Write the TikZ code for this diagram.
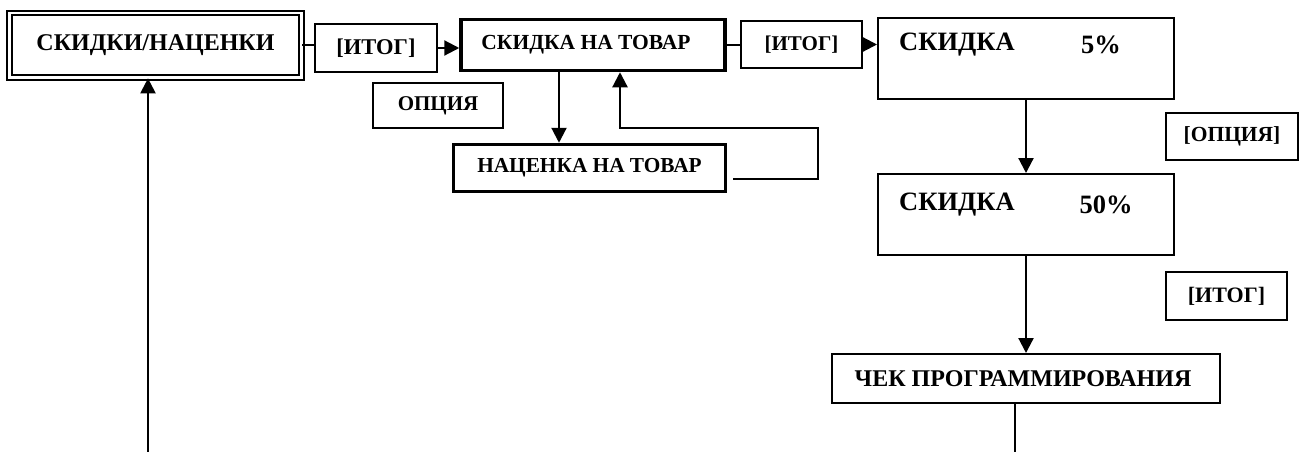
\documentclass[tikz,border=0pt]{standalone}
\usepackage{fontspec}
\setmainfont{Liberation Serif}
\usetikzlibrary{arrows.meta}
\newcommand{\fsz}[1]{\bfseries\fontsize{#1}{#1}\selectfont}
\begin{document}
\begin{tikzpicture}[x=1pt,y=-1pt,
  box/.style={draw=black,line width=2pt,inner sep=0pt,font=\fsz{21.5}},
  thickbox/.style={box,line width=3.5pt},
  conn/.style={line width=2.2pt},
  arr/.style={conn,-{Triangle[length=15pt,width=15pt]}},
  txt/.style={inner sep=0pt,font=\fsz{26.5}}
]
\useasboundingbox (0,0) rectangle (1300,452);
% double box
\node[draw=black,line width=1.7pt,double,double distance=2.8pt,inner sep=0pt,
  minimum width=292pt,minimum height=64.5pt,font=\fsz{24}]
  (dbl) at (155.5,45.25) {СКИДКИ/НАЦЕНКИ};
\node[box,minimum width=122pt,minimum height=48pt,font=\fsz{22.5}] (it1) at (376,48) {[ИТОГ]};
\node[thickbox,minimum width=264pt,minimum height=51pt] (snt) at (593,45) {СКИДКА НА ТОВАР\hspace*{14pt}};
\node[box,minimum width=121pt,minimum height=47pt,font=\fsz{21}] (it2) at (801.5,44.5) {[ИТОГ]};
\node[box,minimum width=130pt,minimum height=45pt,font=\fsz{21}] (opt) at (438,105.5) {ОПЦИЯ};
\node[thickbox,minimum width=272pt,minimum height=47pt,font=\fsz{21.3}] (nat) at (589.5,168) {НАЦЕНКА НА ТОВАР};
\node[box,minimum width=296pt,minimum height=81pt] (s5) at (1026,58.5) {};
\node[txt,anchor=west] (s5a) at (899,45) {СКИДКА};
\node[txt] (s5b) at (1101,45) {5\%};
\node[box,minimum width=132pt,minimum height=47pt] (opt2) at (1232,136.5) {[ОПЦИЯ]};
\node[box,minimum width=296pt,minimum height=81pt] (s50) at (1026,214.5) {};
\node[txt,anchor=west] (s50a) at (899,205) {СКИДКА};
\node[txt] (s50b) at (1106,205) {50\%};
\node[box,minimum width=121pt,minimum height=48pt,font=\fsz{22}] (it3) at (1226.5,296) {[ИТОГ]};
\node[box,minimum width=388pt,minimum height=49pt,font=\fsz{24}] (chek) at (1026,378.5) {ЧЕК ПРОГРАММИРОВАНИЯ\hspace*{6pt}};
% connectors
\draw[conn] (dbl.east) -- (dbl.east -| it1.west);
\draw[arr] (it1.east) -- (it1.east -| snt.west);
\draw[conn] (snt.east) -- (snt.east -| it2.west);
\draw[arr] (it2.east) -- (it2.east -| s5.west);
\draw[arr] (s5.south) -- (s50.north);
\draw[arr] (s50.south) -- (chek.north);
\coordinate (chekend) at (1015,452);
\draw[conn] (chek.south -| chekend) -- (chekend);
\draw[arr] (559,0 |- snt.south) -- (559,0 |- nat.north);
\coordinate (rs) at (733,179);
\draw[conn,-{Triangle[length=15pt,width=15pt]}] (rs) -- (818,179) -- (818,128) -- (620,128) -- (620,0 |- snt.south);
\coordinate (lstart) at (148,452);
\draw[arr] (lstart) -- (lstart |- dbl.south);
\end{tikzpicture}
\end{document}
